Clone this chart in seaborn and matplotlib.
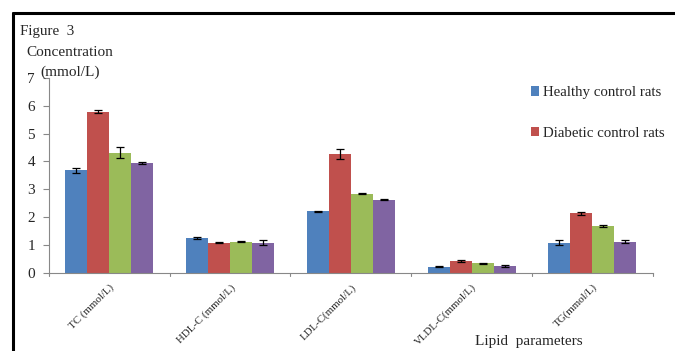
import matplotlib
matplotlib.use("Agg")
import matplotlib.pyplot as plt
from matplotlib.lines import Line2D
from matplotlib.patches import Patch
import numpy as np
import pandas as pd
import seaborn as sns

# Lipid profile per group
parameters = ["TC (mmol/L)", "HDL-C (mmol/L)", "LDL-C(mmol/L)", "VLDL-C(mmol/L)", "TG(mmol/L)"]
groups = ["Healthy control rats", "Diabetic control rats", "Treated rats A", "Treated rats B"]
healthy = [3.68, 1.24, 2.21, 0.22, 1.08]
diabetic = [5.78, 1.08, 4.28, 0.42, 2.13]
treated_a = [4.31, 1.12, 2.84, 0.34, 1.68]
treated_b = [3.94, 1.08, 2.63, 0.23, 1.12]
healthy_err = [0.08, 0.03, 0.02, 0.01, 0.10]
diabetic_err = [0.05, 0.02, 0.18, 0.02, 0.06]
treated_a_err = [0.20, 0.02, 0.02, 0.02, 0.04]
treated_b_err = [0.05, 0.10, 0.02, 0.03, 0.04]
colors = ["#4F81BD", "#C0504D", "#9BBB59", "#8064A2"]

series = [healthy, diabetic, treated_a, treated_b]
errors = [healthy_err, diabetic_err, treated_a_err, treated_b_err]
df = pd.DataFrame({
    "parameter": np.repeat([parameters], len(groups), axis=0).ravel(),
    "group": np.repeat(groups, len(parameters)),
    "value": np.concatenate(series),
})

sns.set_theme(style="white")
plt.rcParams["font.family"] = ["Liberation Serif", "DejaVu Serif"]

fig = plt.figure(figsize=(6.75, 3.51), dpi=100)
ax = fig.add_axes([0.0726, 0.223, 0.8944, 0.555])

sns.barplot(data=df, x="parameter", y="value", hue="group", hue_order=groups,
            order=parameters, palette=colors, errorbar=None, width=0.73, saturation=1,
            edgecolor="none", legend=False, ax=ax)

# error bars placed on the bars seaborn drew
bar_containers = list(ax.containers)
for gi, container in enumerate(bar_containers):
    for pi, bar in enumerate(container.patches):
        cx = bar.get_x() + bar.get_width() / 2
        ax.errorbar(cx, bar.get_height(), yerr=errors[gi][pi], fmt="none",
                    ecolor="black", elinewidth=0.9, capsize=3, capthick=0.9)

ax.set_ylim(0, 7)
ax.set_xlim(-0.5, len(parameters) - 0.5)
ax.set_yticks(range(0, 8))
ax.set_yticklabels([str(i) for i in range(0, 8)], fontsize=11)
ax.set_xticks(range(len(parameters)))
ax.set_xticklabels(parameters, rotation=45, ha="right", rotation_mode="anchor", fontsize=7.8)
ax.tick_params(axis="x", length=0, pad=7)
ax.tick_params(axis="y", left=True, length=4, color="#888888", width=0.8, pad=6)
# boundary ticks between categories
for b in np.arange(-0.5, len(parameters) + 0.5, 1.0):
    ax.plot([b, b], [0, -0.1], color="#888888", lw=0.8, clip_on=False)
ax.set_xlabel("")
ax.set_ylabel("")
for side in ["top", "right"]:
    ax.spines[side].set_visible(False)
for side in ["left", "bottom"]:
    ax.spines[side].set_color("#888888")
    ax.spines[side].set_linewidth(0.8)

handles = [Patch(facecolor=colors[0], edgecolor="none"), Patch(facecolor=colors[1], edgecolor="none")]
fig.legend(handles, groups[:2], loc="upper left", bbox_to_anchor=(0.775, 0.775),
           frameon=False, fontsize=10.7, handlelength=0.6, handleheight=0.6,
           handletextpad=0.25, labelspacing=1.85, borderpad=0)

fig.text(20 / 675, 1 - 32 / 351, "Figure  3", fontsize=10.8, va="center", ha="left")
fig.text(26 / 675, 1 - 53 / 351, "Concentration", fontsize=11, va="center", ha="left")
fig.text(40 / 675, 1 - 72 / 351, "(mmol/L)", fontsize=11, va="center", ha="left")
fig.text(475 / 675, 1 - 341 / 351, "Lipid  parameters", fontsize=11, va="center", ha="left")

# frame lines along the left and top edges
fig.add_artist(Line2D([13 / 675, 13 / 675], [0, 1 - 13 / 351], transform=fig.transFigure,
                      color="black", lw=2.2))
fig.add_artist(Line2D([13 / 675, 1], [1 - 13 / 351, 1 - 13 / 351], transform=fig.transFigure,
                      color="black", lw=2.2))

fig.savefig("out.png", dpi=100, facecolor="white")
